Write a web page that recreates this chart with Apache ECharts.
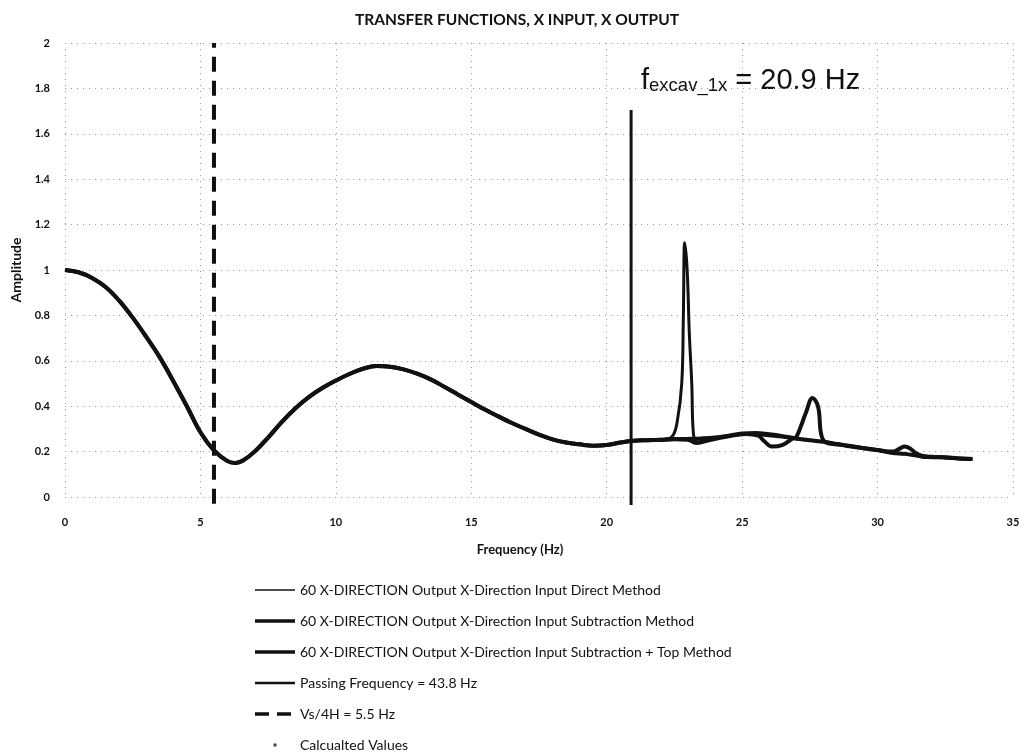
<!DOCTYPE html>
<html>
<head>
<meta charset="utf-8">
<script src="https://cdn.jsdelivr.net/npm/echarts@6/dist/echarts.min.js"></script>
<style>
html,body{margin:0;padding:0;background:#fff;}
#chart{width:1032px;height:756px;}
</style>
</head>
<body>
<div id="chart"></div>
<script>
// ---- data ----
const xTicks = [0, 5, 10, 15, 20, 25, 30, 35];
const yTicks = [0, 0.2, 0.4, 0.6, 0.8, 1, 1.2, 1.4, 1.6, 1.8, 2];

// common low-frequency part (all three transfer functions overlap)
const baseFreq = [0, 0.5, 1.0, 1.5, 2.0, 2.5, 3.0, 3.5, 4.0, 4.5, 5.0, 5.5, 6.0, 6.3, 6.6, 7.0, 7.5, 8.0, 8.5, 9.0, 9.5, 10.0, 10.5, 11.0, 11.5, 12.0, 12.5, 13.0, 13.5, 14.0, 14.5, 15.0, 15.5, 16.0, 16.5, 17.0, 17.5, 18.0, 18.5, 19.0, 19.5, 20.0, 20.5, 21.0, 21.5, 22.0];
const baseAmp  = [1.0, 0.99, 0.965, 0.925, 0.865, 0.79, 0.705, 0.615, 0.51, 0.40, 0.285, 0.205, 0.158, 0.15, 0.163, 0.2, 0.262, 0.33, 0.39, 0.44, 0.48, 0.513, 0.542, 0.565, 0.577, 0.574, 0.562, 0.543, 0.518, 0.486, 0.452, 0.418, 0.385, 0.355, 0.326, 0.3, 0.275, 0.254, 0.24, 0.232, 0.226, 0.229, 0.24, 0.248, 0.25, 0.252];

// high-frequency parts, per method
const directFreq = [22.4, 22.6, 22.77, 22.83, 22.88, 22.97, 23.05, 23.14, 23.2, 23.35, 24.0, 24.5, 25.0, 25.5, 26.0, 26.5, 27.0, 27.5, 28.0, 28.5, 29.0, 29.5, 30.0, 30.5, 31.0, 31.5, 32.0, 32.5, 33.0, 33.5];
const directAmp  = [0.264, 0.33, 0.5, 0.8, 1.12, 1.0, 0.72, 0.5, 0.28, 0.242, 0.258, 0.268, 0.278, 0.276, 0.27, 0.264, 0.256, 0.25, 0.244, 0.234, 0.224, 0.215, 0.206, 0.197, 0.19, 0.182, 0.177, 0.173, 0.17, 0.167];

const subFreq = [22.5, 23.0, 23.3, 23.7, 24.4, 25.15, 25.6, 25.8, 26.1, 26.5, 26.86, 27.0, 27.35, 27.6, 27.8, 28.0, 28.7, 29.3, 29.96, 30.55, 31.0, 31.43, 31.8, 32.4, 33.0, 33.5];
const subAmp  = [0.254, 0.252, 0.238, 0.248, 0.265, 0.278, 0.27, 0.248, 0.222, 0.23, 0.258, 0.264, 0.37, 0.436, 0.4, 0.25, 0.229, 0.218, 0.207, 0.194, 0.19, 0.183, 0.176, 0.175, 0.17, 0.167];

const topFreq = [22.5, 23.0, 23.5, 24.0, 24.5, 25.0, 25.5, 26.0, 26.5, 27.0, 27.5, 28.0, 28.5, 29.0, 29.5, 30.0, 30.55, 30.8, 31.0, 31.2, 31.43, 31.8, 32.4, 33.0, 33.5];
const topAmp  = [0.255, 0.256, 0.258, 0.262, 0.27, 0.28, 0.282, 0.276, 0.268, 0.258, 0.25, 0.243, 0.234, 0.225, 0.215, 0.207, 0.2, 0.212, 0.222, 0.214, 0.192, 0.178, 0.175, 0.17, 0.167];

const excavFreq = 20.9;            // f_excav_1x
const excavAmp  = [-0.035, 1.705];
const vsFreq = 5.5;                // Vs/4H
const vsAmp  = [-0.03, 2.0];
const calcFreq = [];               // "Calcualted Values" (no visible markers)
const calcAmp  = [];

const names = [
  '60 X-DIRECTION Output X-Direction Input Direct Method',
  '60 X-DIRECTION Output X-Direction Input Subtraction Method',
  '60 X-DIRECTION Output X-Direction Input Subtraction + Top Method',
  'Passing Frequency = 43.8 Hz',
  'Vs/4H = 5.5 Hz',
  'Calcualted Values'
];

function zip(xs, ys) { return xs.map((x, i) => [x, ys[i]]); }
function vline(x, ys) { return ys.map(y => [x, y]); }

const chart = echarts.init(document.getElementById('chart'), null, {renderer: 'canvas'});
const fontTxt = 'Lato, "Open Sans", sans-serif';
const arial = '"Liberation Sans", Arial, sans-serif';

const curveCommon = {
  type: 'line', showSymbol: false, symbol: 'none',
  smooth: 0.4, animation: false
};

// legend icons (bounding box 40x14 kept by the leading moveTo points)
const iconThin   = 'path://M0,0M40,14M0,6.2h40v1.6h-40z';
const iconThick  = 'path://M0,0M40,14M0,5.3h40v3.4h-40z';
const iconMid    = 'path://M0,0M40,14M0,5.7h40v2.6h-40z';
const iconDash   = 'path://M0,0M40,14M0,5.2h14v3.6h-14zM22,5.2h14v3.6h-14z';
const iconDot    = 'path://M0,0M40,14M18.5,5.5h3v3h-3z';

chart.setOption({
  backgroundColor: '#ffffff',
  animation: false,
  title: {
    text: 'TRANSFER FUNCTIONS, X INPUT, X OUTPUT',
    left: 350, top: 7,
    textStyle: {fontFamily: fontTxt, fontWeight: 'bold', fontSize: 15.5, color: '#111'}
  },
  grid: {left: 65, right: 19, top: 43, bottom: 259, containLabel: false},
  xAxis: {
    type: 'value', min: 0, max: 35, interval: 5,
    name: 'Frequency (Hz)', nameLocation: 'middle', nameGap: 46,
    nameTextStyle: {fontFamily: fontTxt, fontWeight: 'bold', fontSize: 13, color: '#111', padding: [0, 38, 0, 0]},
    axisLine: {show: false}, axisTick: {show: false},
    axisLabel: {margin: 20, fontFamily: fontTxt, fontWeight: 'bold', fontSize: 11, color: '#111',
      formatter: v => xTicks.includes(v) ? String(v) : ''},
    splitLine: {show: true, lineStyle: {color: '#9a9a9a', type: [1, 5], width: 1}}
  },
  yAxis: {
    type: 'value', min: 0, max: 2, interval: 0.2,
    name: 'Amplitude', nameLocation: 'middle', nameGap: 40, nameRotate: 90,
    nameTextStyle: {fontFamily: fontTxt, fontWeight: 'bold', fontSize: 14, color: '#111'},
    axisLine: {show: false}, axisTick: {show: false},
    axisLabel: {margin: 15, fontFamily: fontTxt, fontWeight: 'bold', fontSize: 11, color: '#111',
      formatter: v => {
        const t = yTicks.find(y => Math.abs(y - v) < 1e-6);
        return t === undefined ? '' : String(t);
      }},
    splitLine: {show: true, lineStyle: {color: '#9a9a9a', type: [1, 5], width: 1}}
  },
  legend: {
    orient: 'vertical', left: 255, top: 583, padding: 0,
    itemWidth: 40, itemHeight: 14, itemGap: 17,
    textStyle: {fontFamily: fontTxt, fontSize: 14, color: '#111', lineHeight: 14},
    data: [
      {name: names[0], icon: iconThin,  itemStyle: {color: '#111'}},
      {name: names[1], icon: iconThick, itemStyle: {color: '#111'}},
      {name: names[2], icon: iconThick, itemStyle: {color: '#111'}},
      {name: names[3], icon: iconMid,   itemStyle: {color: '#111'}},
      {name: names[4], icon: iconDash,  itemStyle: {color: '#111'}},
      {name: names[5], icon: iconDot,   itemStyle: {color: '#111'}}
    ]
  },
  graphic: [{
    type: 'text', left: 641, top: 66, silent: true,
    style: {
      text: '{f|f}{s|excav_1x}{m| = 20.9 Hz}',
      rich: {
        f: {fontFamily: arial, fontSize: 29, fill: '#111', verticalAlign: 'bottom', lineHeight: 30},
        s: {fontFamily: arial, fontSize: 18.5, fill: '#111', verticalAlign: 'bottom', lineHeight: 24},
        m: {fontFamily: arial, fontSize: 29, fill: '#111', verticalAlign: 'bottom', lineHeight: 30}
      }
    }
  }],
  series: [
    Object.assign({}, curveCommon, {
      name: names[0], z: 3,
      data: zip(baseFreq.concat(directFreq), baseAmp.concat(directAmp)),
      lineStyle: {color: '#111', width: 3}, itemStyle: {color: '#111'}
    }),
    Object.assign({}, curveCommon, {
      name: names[1], z: 3,
      data: zip(baseFreq.concat(subFreq), baseAmp.concat(subAmp)),
      lineStyle: {color: '#111', width: 4}, itemStyle: {color: '#111'}
    }),
    Object.assign({}, curveCommon, {
      name: names[2], z: 3,
      data: zip(baseFreq.concat(topFreq), baseAmp.concat(topAmp)),
      lineStyle: {color: '#111', width: 4}, itemStyle: {color: '#111'}
    }),
    {
      name: names[3], type: 'line', showSymbol: false, symbol: 'none', clip: false, z: 4,
      data: vline(excavFreq, excavAmp),
      lineStyle: {color: '#111', width: 3}, itemStyle: {color: '#111'}
    },
    {
      name: names[4], type: 'line', showSymbol: false, symbol: 'none', clip: false, z: 4,
      data: vline(vsFreq, vsAmp),
      lineStyle: {color: '#111', width: 4, type: [15, 9]}, itemStyle: {color: '#111'}
    },
    {
      name: names[5], type: 'scatter', symbolSize: 4,
      data: zip(calcFreq, calcAmp), itemStyle: {color: '#111'}
    }
  ]
});
</script>
</body>
</html>
